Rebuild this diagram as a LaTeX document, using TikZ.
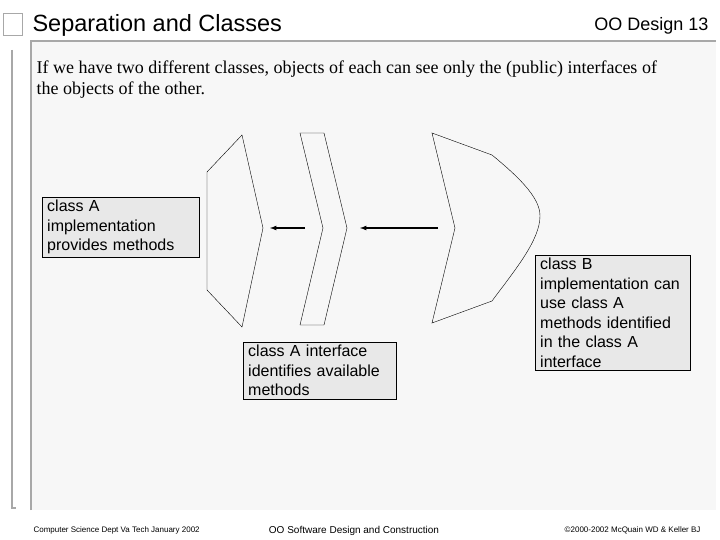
\documentclass[tikz,border=0pt]{standalone}
\usepackage{fontspec}
\setmainfont{Liberation Serif}
\setsansfont{Liberation Sans}
\usetikzlibrary{arrows,calc,positioning}
\definecolor{panel}{HTML}{F7F7F7}
\definecolor{boxfill}{HTML}{E8E8E8}
\definecolor{rim}{HTML}{A8A8A8}
\tikzset{
  notebox/.style={draw, fill=boxfill, align=left, anchor=north west, inner xsep=5pt, inner ysep=3pt,
    font=\sffamily\fontsize{16}{19.5}\selectfont},
  shapeline/.style={draw, thin},
  pointer/.style={very thick, -latex}
}
\begin{document}
\begin{tikzpicture}[x=1pt, y=-1pt]
  \useasboundingbox (0,0) rectangle (720,540);
  \fill[white] (0,0) rectangle (720,540);
  % frame
  \fill[panel] (30,40) rectangle (716,510);
  \draw[rim, line width=2pt] (31,510) -- (31,41) -- (716,41);
  \draw[rim, line width=2pt] (12,50) -- (12,508) -- (16,508);
  \draw[rim, line width=1pt] (3,14) rectangle (22,36);
  \node[anchor=west, font=\sffamily\fontsize{23.5}{26}\selectfont] (title) at (29,25) {Separation and Classes};
  \node[anchor=east, font=\sffamily\fontsize{18}{20}\selectfont] (slide) at (712,26) {OO Design 13};
  \node[anchor=north west, align=left, font=\fontsize{18}{21.5}\selectfont] (intro) at (33,57)
    {If we have two different classes, objects of each can see only the (public) interfaces of\\the objects of the other.};

  % shapes
  \draw[shapeline] (242,135) -- (207,172) -- (207,290) -- (242,327) -- (263,228) -- cycle;
  \draw[shapeline] (300,133) -- (324,133) -- (347,228) -- (324,325) -- (300,325) -- (323,228) -- cycle;
  \draw[shapeline] (432,133) -- (492,155) .. controls (525,182) and (540,200) .. (540,216)
    .. controls (540,240) and (515,270) .. (492,301) -- (432,323) -- (455,228) -- cycle;
  \coordinate (p1s) at (305,228);
  \coordinate (p1e) at (270,228);
  \coordinate (p2s) at (438,228);
  \coordinate (p2e) at (360,228);
  \draw[pointer] (p1s) -- (p1e);
  \draw[pointer] (p2s) -- (p2e);

  % notes
  \node[notebox, text width=147pt] (impA) at (42,197) {class A\\implementation\\provides methods};
  \node[notebox, text width=143pt] (ifaceA) at (243,342) {class A interface\\identifies available\\methods};
  \node[notebox, text width=145pt] (useB) at (535,255) {class B\\implementation can\\use class A\\methods identified\\in the class A\\interface};

  % footer
  \node[font=\sffamily\fontsize{8}{10}\selectfont, anchor=west] (foot1) at (30,530) {Computer Science Dept Va Tech January 2002};
  \node[font=\sffamily\fontsize{10}{12}\selectfont] (foot2) at (354,531) {OO Software Design and Construction};
  \node[font=\sffamily\fontsize{8}{10}\selectfont, anchor=east] (foot3) at (704,530) {\textcopyright 2000-2002 McQuain WD \& Keller BJ};
\end{tikzpicture}
\end{document}
